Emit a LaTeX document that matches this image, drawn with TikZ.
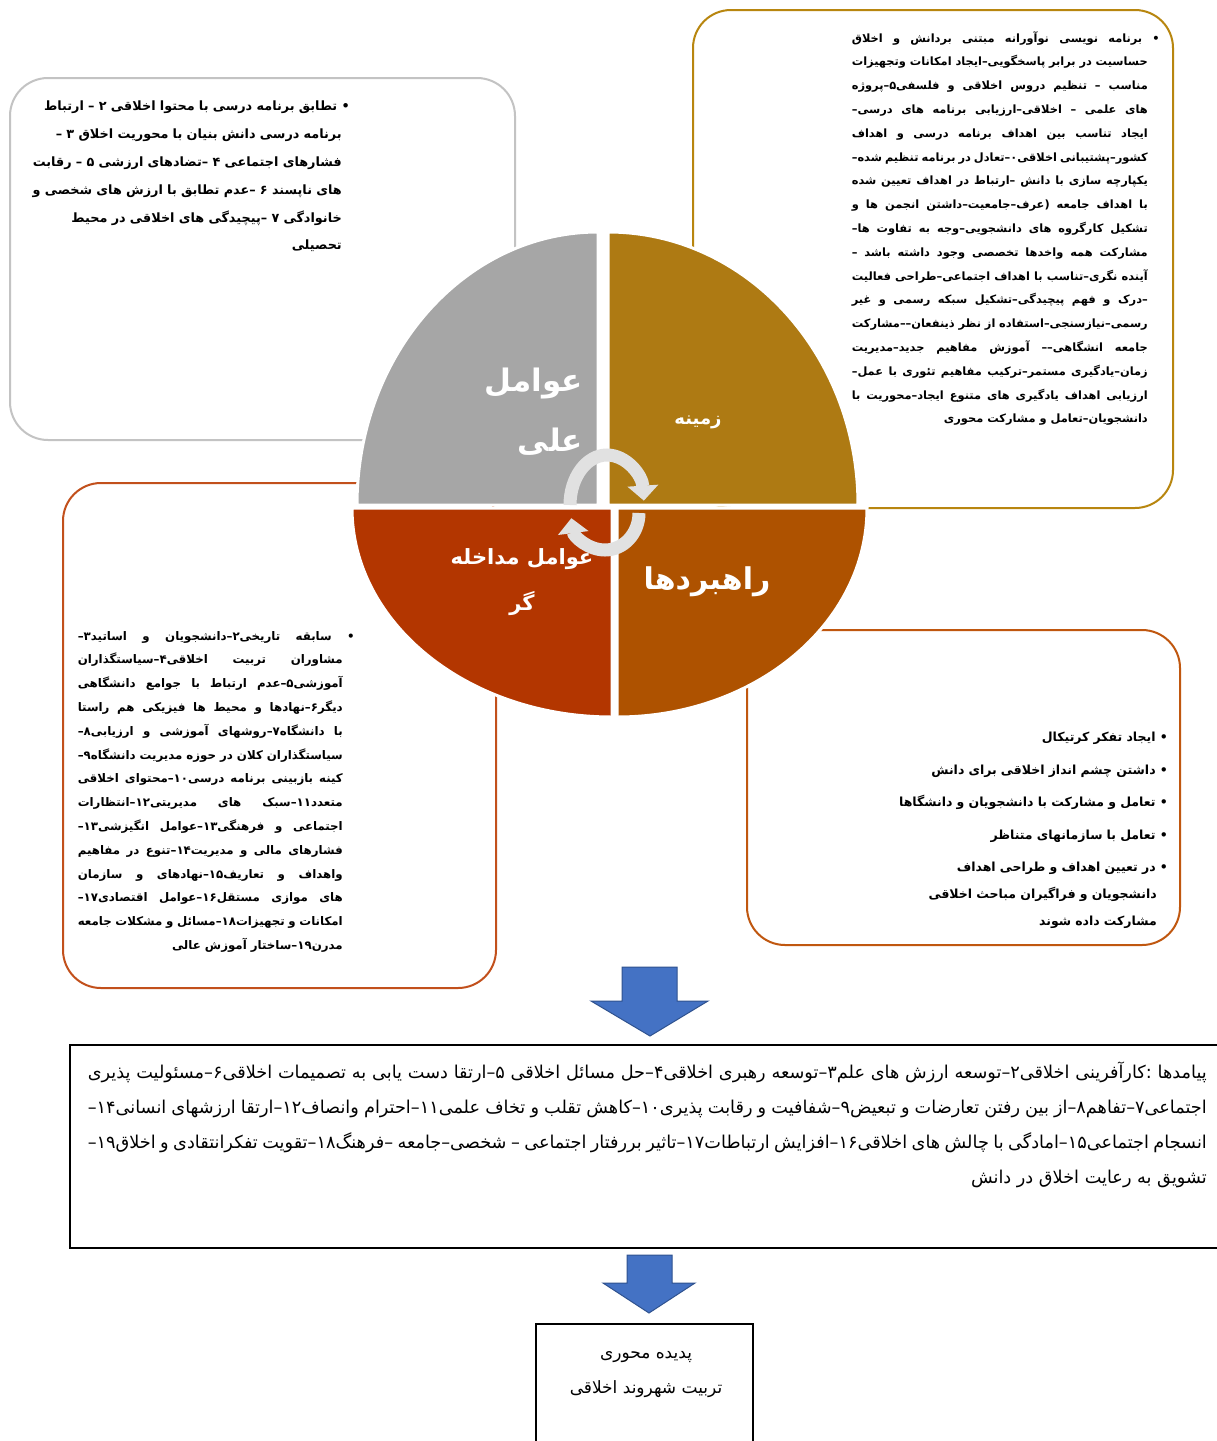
\documentclass[tikz,border=0pt]{standalone}
\usepackage{fontspec}
\newfontfamily\farsifont[Script=Arabic]{DejaVu Sans}
\TeXXeTstate=1
\usetikzlibrary{arrows.meta}

\definecolor{pieGrey}{HTML}{A6A6A6}
\definecolor{pieGold}{HTML}{AE7A13}
\definecolor{pieRed}{HTML}{B33600}
\definecolor{pieRust}{HTML}{AE5200}
\definecolor{edgeGrey}{HTML}{C3C3C3}
\definecolor{edgeGold}{HTML}{B8860F}
\definecolor{edgeRed}{HTML}{C2501C}
\definecolor{edgeRust}{HTML}{C0570F}
\definecolor{arrowBlue}{HTML}{4472C4}
\definecolor{arrowEdge}{HTML}{2F528F}
\definecolor{cycleGrey}{HTML}{E1E1E1}

\tikzset{
  roundbox/.style={line width=2pt, rounded corners=38pt, fill=white},
  quarter/.style={draw=white, line width=3pt},
  boldtxt/.style 2 args={inner sep=0pt, anchor=north east, font=\farsifont\bfseries\fontsize{#1}{#2}\selectfont},
  plaintxt/.style 2 args={inner sep=0pt, font=\farsifont\fontsize{#1}{#2}\selectfont},
  pielabel/.style 2 args={text=white, inner sep=0pt, font=\farsifont\bfseries\fontsize{#1}{#2}\selectfont},
  cyclearrow/.style={draw=cycleGrey, line width=13pt, -{Triangle[width=30pt,length=15pt]}},
  blockarrow/.style={fill=arrowBlue, draw=arrowEdge, line width=1pt},
}

\begin{document}
\begin{tikzpicture}[x=1pt,y=-1pt]
\useasboundingbox (0,0) rectangle (1217,1441);
\fill[white] (0,0) rectangle (1217,1441);

% frames behind the pie
\draw[roundbox, draw=edgeGrey] (10,78) rectangle (515,440);
\draw[roundbox, draw=edgeGold] (693,10) rectangle (1173,508);
\draw[roundbox, draw=edgeRed] (63,483) rectangle (496,988);
\draw[roundbox, draw=edgeRust] (747,630) rectangle (1180,945);

% the four quarters
\filldraw[quarter, fill=pieGrey] (598,505) -- (357,505) arc[start angle=180, end angle=90, x radius=241pt, y radius=273pt] -- cycle;
\filldraw[quarter, fill=pieGold] (608,505) -- (858,505) arc[start angle=0, end angle=90, x radius=250pt, y radius=273pt] -- cycle;
\filldraw[quarter, fill=pieRed] (612,508) -- (352,508) arc[start angle=180, end angle=270, x radius=260pt, y radius=209pt] -- cycle;
\filldraw[quarter, fill=pieRust] (617,508) -- (867,508) arc[start angle=0, end angle=-90, x radius=250pt, y radius=209pt] -- cycle;

% cycle in the middle
\draw[cyclearrow] (570,505) arc[start angle=180, end angle=5, x radius=37pt, y radius=50pt];
\draw[cyclearrow] (639,513) arc[start angle=0, end angle=-172, x radius=34pt, y radius=37pt];

% quarter titles
\node[pielabel={31}{60}, align=right] (illlabel) at (534,412) {\beginR عوامل\endR\\\beginR علی\endR};
\node[pielabel={18}{22}] (contextlabel) at (698,422) {\beginR زمینه\endR};
\node[pielabel={21}{46}, align=center] (intervlabel) at (522,582) {\beginR عوامل مداخله\endR\\\beginR گر\endR};
\node[pielabel={30}{36}] (stratlabel) at (707,582) {\beginR راهبردها\endR};

% box texts
\node[boldtxt={12.8}{27.8}, text width=322pt, align=right] (illtxt) at (350,101)
  {\beginR\hangindent=-8pt\hangafter=1 • تطابق برنامه درسی با محتوا اخلاقی ۲ – ارتباط\break برنامه درسی دانش بنیان با محوریت اخلاق ۳ –\break فشارهای اجتماعی ۴ –تضادهای ارزشی ۵ – رقابت\break های ناپسند ۶ –عدم تطابق با ارزش های شخصی و\break خانوادگی ۷ –پیچیدگی های اخلاقی در محیط\break تحصیلی\par};

\node[boldtxt={11.4}{23.8}, text width=308pt, align=justify] (contexttxt) at (1160,31)
  {\beginR\hangindent=-12pt\hangafter=1 • برنامه نویسی نوآورانه مبتنی بردانش و اخلاق حساسیت در برابر پاسخگویی–ایجاد امکانات وتجهیزات مناسب – تنظیم دروس اخلاقی و فلسفی۵–پروژه های علمی – اخلاقی–ارزیابی برنامه های درسی–ایجاد تناسب بین اهداف برنامه درسی و اهداف کشور–پشتیبانی اخلاقی۰–تعادل در برنامه تنظیم شده–یکپارچه سازی با دانش –ارتباط در اهداف تعیین شده با اهداف جامعه (عرف–جامعیت–داشتن انجمن ها و تشکیل کارگروه های دانشجویی–وجه به تفاوت ها–مشارکت همه واخدها تخصصی وجود داشته باشد –آینده نگری–تناسب با اهداف اجتماعی–طراحی فعالیت –درک و فهم پیچیدگی–تشکیل سبکه رسمی و غیر رسمی–نیازسنجی–استفاده از نظر ذینفعان––مشارکت جامعه انشگاهی–– آموزش مفاهیم جدید–مدیریت زمان–یادگیری مستمر–ترکیب مفاهیم تئوری با عمل–ارزیابی اهداف یادگیری های متنوع ایجاد–محوریت با دانشجویان–تعامل و مشارکت محوری\par};

\node[boldtxt={11.8}{23.8}, text width=277pt, align=justify] (intervtxt) at (355,631)
  {\beginR\hangindent=-12pt\hangafter=1 • سابقه تاریخی۲–دانشجویان و اساتید۳–مشاوران تربیت اخلاقی۴–سیاستگذاران آموزشی۵–عدم ارتباط با جوامع دانشگاهی دیگر۶–نهادها و محیط ها فیزیکی هم راستا با دانشگاه۷–روشهای آموزشی و ارزیابی۸–سیاستگذاران کلان در حوزه مدیریت دانشگاه۹–کینه بازبینی برنامه درسی۱۰–محتوای اخلاقی متعدد۱۱–سبک های مدیریتی۱۲–انتظارات اجتماعی و فرهنگی۱۳–عوامل انگیزشی۱۳–فشارهای مالی و مدیریت۱۴–تنوع در مفاهیم واهداف و تعاریف۱۵–نهادهای و سازمان های موازی مستقل۱۶–عوامل اقتصادی۱۷–امکانات و تجهیزات۱۸–مسائل و مشکلات جامعه مدرن۱۹–ساختار آموزش عالی\par};

\node[boldtxt={12.5}{27}, text width=276pt, align=right] (strattxt) at (1168,732)
  {\beginR • ایجاد تفکر کرتیکال\par\vspace{5.5pt}
   \beginR • داشتن چشم انداز اخلاقی برای دانش\par\vspace{5.5pt}
   \beginR • تعامل و مشارکت با دانشجویان و دانشگاها\par\vspace{5.5pt}
   \beginR • تعامل با سازمانهای متناظر\par\vspace{5.5pt}
   \beginR\hangindent=-11pt\hangafter=1 • در تعیین اهداف و طراحی اهداف\break دانشجویان و فراگیران مباحث اخلاقی\break مشارکت داده شوند\par};

% outcomes
\draw[black, line width=1.2pt] (70,1045) rectangle (1230,1248);
\node[plaintxt={17.7}{35}, anchor=north east, text width=1119pt, align=justify] (outcometxt) at (1207,1062)
  {\beginR پیامدها :کارآفرینی اخلاقی۲–توسعه ارزش های علم۳–توسعه رهبری اخلاقی۴–حل مسائل اخلاقی ۵–ارتقا دست یابی به تصمیمات اخلاقی۶–مسئولیت پذیری اجتماعی۷–تفاهم۸–از بین رفتن تعارضات و تبعیض۹–شفافیت و رقابت پذیری۱۰–کاهش تقلب و تخاف علمی۱۱–احترام وانصاف۱۲–ارتقا ارزشهای انسانی۱۴–انسجام اجتماعی۱۵–امادگی با چالش های اخلاقی۱۶–افزایش ارتباطات۱۷–تاثیر بررفتار اجتماعی – شخصی–جامعه –فرهنگ۱۸–تقویت تفکرانتقادی و اخلاق۱۹–تشویق به رعایت اخلاق در دانش\par};

% core phenomenon
\draw[black, line width=1.2pt] (536,1324) rectangle (753,1460);
\node[plaintxt={17}{35}, align=center] (coretxt) at (646,1375)
  {\beginR پدیده محوری\endR\\\beginR تربیت شهروند اخلاقی\endR};

% block arrows
\filldraw[blockarrow] (622,967) -- (677,967) -- (677,1001) -- (708,1001) -- (650,1036) -- (591,1001) -- (622,1001) -- cycle;
\filldraw[blockarrow] (627,1255) -- (672,1255) -- (672,1283) -- (695,1283) -- (649,1313) -- (603,1283) -- (627,1283) -- cycle;
\end{tikzpicture}
\end{document}
